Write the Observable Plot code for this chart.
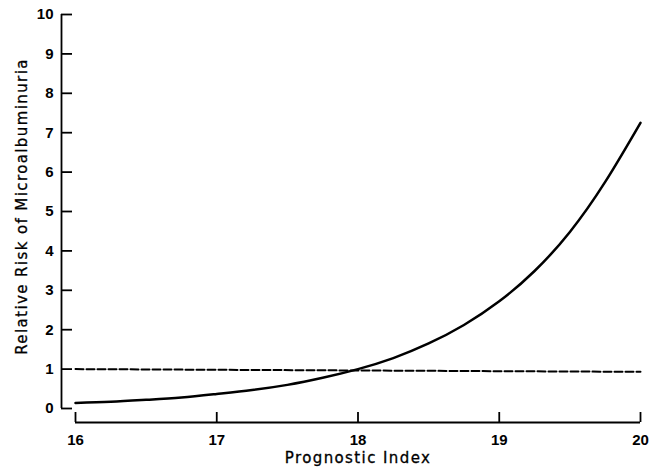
<!DOCTYPE html>
<html><head><meta charset="utf-8">
<script src="https://cdn.jsdelivr.net/npm/d3@7"></script>
<script src="https://cdn.jsdelivr.net/npm/@observablehq/plot@0.6"></script>
<style>body{margin:0;background:#fff} svg{display:block}</style>
</head><body><div id="chart"></div>
<script>
const prognosticIndex = [16, 16.25, 16.5, 16.75, 17, 17.25, 17.5, 17.75, 18, 18.25, 18.5, 18.75, 19, 19.25, 19.5, 19.75, 20];
const relativeRisk = [0.14, 0.17, 0.22, 0.28, 0.37, 0.47, 0.6, 0.78, 1.0, 1.28, 1.65, 2.12, 2.72, 3.49, 4.48, 5.75, 7.25];
const referenceX = [16, 20];
const referenceRisk = [1.0, 0.93];
const xTicks = [16, 17, 18, 19, 20];
const yTicks = [0, 1, 2, 3, 4, 5, 6, 7, 8, 9, 10];
const xLabel = "Prognostic Index";
const yLabel = "Relative Risk of Microalbuminuria";

const curveData = prognosticIndex.map((x, i) => ({x, y: relativeRisk[i]}));
const refData = referenceX.map((x, i) => ({x, y: referenceRisk[i]}));

const chart = Plot.plot({
  width: 657, height: 470,
  marginLeft: 75, marginRight: 17, marginTop: 14, marginBottom: 62,
  x: {domain: [16, 20]},
  y: {domain: [0, 10]},
  style: {fontFamily: "DejaVu Sans", background: "white", color: "black"},
  marks: [
    Plot.ruleX([16], {dx: -14, strokeWidth: 1.8}),
    Plot.axisY({ticks: yTicks, tickSize: -11, dx: -14, tickFormat: () => "", strokeWidth: 1.8, label: null}),
    Plot.axisY({ticks: yTicks, tickSize: 0, tickPadding: 8, dx: -14, tickFormat: d => String(d), fontSize: 15, fontWeight: "bold", fontFamily: "Liberation Sans", label: null}),
    Plot.ruleY([0], {dy: 14, strokeWidth: 1.8}),
    Plot.axisX({ticks: xTicks, tickSize: -10, dy: 14, tickFormat: () => "", strokeWidth: 1.8, label: null}),
    Plot.axisX({ticks: xTicks, tickSize: 0, tickPadding: 12, dy: 14, tickFormat: d => String(d), fontSize: 15, fontWeight: "bold", fontFamily: "Liberation Sans", label: null}),
    Plot.text([xLabel], {frameAnchor: "bottom", dy: 44, lineAnchor: "top", textAnchor: "middle", fontSize: 15, text: d => d}),
    Plot.text([yLabel], {frameAnchor: "left", rotate: -90, dx: -53, dy: -5, textAnchor: "middle", fontSize: 15, text: d => d}),
    Plot.line(refData, {x: "x", y: "y", strokeDasharray: "8,3", strokeWidth: 2}),
    Plot.line(curveData, {x: "x", y: "y", curve: "natural", strokeWidth: 2.5})
  ]
});
d3.select(chart).selectAll("text").filter(function() {
  return this.textContent === xLabel || this.textContent === yLabel;
}).attr("letter-spacing", "1.4px").attr("stroke", "black").attr("stroke-width", 0.3);
document.getElementById("chart").appendChild(chart);
</script>
</body></html>
